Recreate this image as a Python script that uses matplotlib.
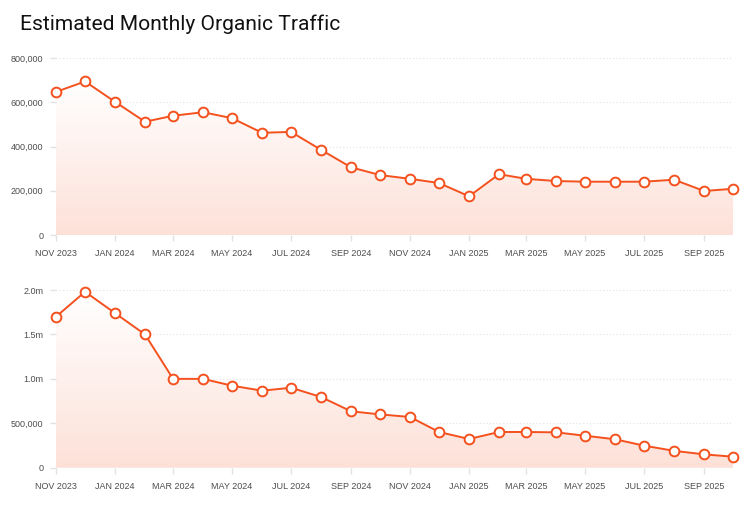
import matplotlib
matplotlib.use('Agg')
import matplotlib.pyplot as plt
import matplotlib.dates as mdates
from matplotlib.ticker import FuncFormatter
from matplotlib.colors import LinearSegmentedColormap
import numpy as np
import pandas as pd

ORANGE = '#f4511e'
GRID = '#e2e2e2'
TICK = '#4d4d4d'

months = pd.date_range('2023-11-01', '2025-10-01', freq='MS')

traffic_top = [647000, 694000, 602000, 512000, 539000, 555000, 528000, 462000,
               466000, 385000, 306000, 271000, 254000, 235000, 175000, 275000,
               254000, 244000, 241000, 241000, 241000, 250000, 199000, 209000]

traffic_bottom = [1700000, 1980000, 1740000, 1500000, 1000000, 1000000, 923000, 867000,
                  900000, 796000, 635000, 600000, 571000, 402000, 323000, 402000,
                  402000, 398000, 360000, 320000, 248000, 190000, 150000, 124000]

top_ticks = [0, 200000, 400000, 600000, 800000]
bottom_ticks = [0, 500000, 1000000, 1500000, 2000000]


def fmt_top(v, pos):
    return f'{int(v):,}'


def fmt_bottom(v, pos):
    if v >= 1000000:
        return f'{v / 1e6:.1f}m'
    return f'{int(v):,}'


grad = LinearSegmentedColormap.from_list('g', ['#fde1d8', '#ffffff'])


def panel(ax, values, ticks, fmt):
    x = mdates.date2num(months.to_pydatetime())
    ymax = ticks[-1]
    ax.set_xlim(x[0], x[-1])
    ax.set_ylim(0, ymax)

    # gradient fill under the line
    fill = ax.fill_between(x, values, 0, color='none', lw=0)
    top = max(values)
    img = ax.imshow(np.linspace(0, 1, 256).reshape(-1, 1), cmap=grad, aspect='auto',
                    extent=[x[0], x[-1], 0, top], origin='lower', zorder=1)
    path = fill.get_paths()[0]
    img.set_clip_path(path, transform=ax.transData)

    ax.plot(x, values, color=ORANGE, lw=1.4, zorder=3, clip_on=False,
            marker='o', ms=7, mfc='white', mec=ORANGE, mew=1.4)

    ax.set_yticks(ticks)
    ax.yaxis.set_major_formatter(FuncFormatter(fmt))
    for t in ticks[1:]:
        ax.axhline(t, color=GRID, lw=0.8, ls=(0, (1, 2)), zorder=0)
    ax.axhline(0, color=GRID, lw=1, zorder=2)

    ticks_x = pd.date_range('2023-11-01', '2025-09-01', freq='2MS')
    ax.set_xticks(mdates.date2num(ticks_x.to_pydatetime()))
    ax.set_xticklabels([d.strftime('%b %Y').upper() for d in ticks_x])

    for s in ax.spines.values():
        s.set_visible(False)
    ax.tick_params(axis='x', length=4, width=1, color=GRID, pad=6,
                   labelsize=6.5, labelcolor=TICK)
    ax.tick_params(axis='y', length=4.5, width=1, color=GRID, pad=4.5,
                   labelsize=6.5, labelcolor=TICK)
    for lbl in ax.get_xticklabels() + ax.get_yticklabels():
        lbl.set_family('Liberation Sans')


fig = plt.figure(figsize=(7.54, 5.18), dpi=100)
fig.patch.set_facecolor('white')

ax1 = fig.add_axes([0.0743, 0.5463, 0.898, 0.3417])
ax2 = fig.add_axes([0.0743, 0.0971, 0.898, 0.343])

panel(ax1, traffic_top, top_ticks, fmt_top)
panel(ax2, traffic_bottom, bottom_ticks, fmt_bottom)

fig.text(20 / 754, 1 - 24 / 518, 'Estimated Monthly Organic Traffic',
         fontsize=15.1, color='#111111', family='Roboto', va='center', ha='left')

fig.savefig('out.png', dpi=100, facecolor='white')
